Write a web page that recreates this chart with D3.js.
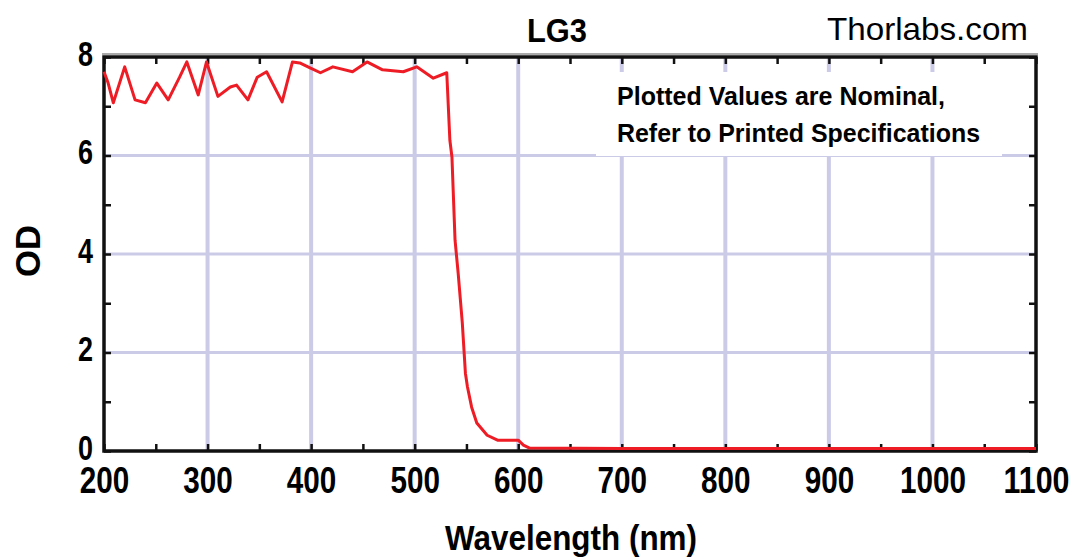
<!DOCTYPE html>
<html>
<head>
<meta charset="utf-8">
<script src="https://cdn.jsdelivr.net/npm/d3@7"></script>
<style>
  body { margin: 0; background: #fff; }
  svg { display: block; }
  text { font-family: "Liberation Sans", Arial, sans-serif; }
</style>
</head>
<body>
<svg id="chart" width="1074" height="557"></svg>
<script>
// LG3 optical density
var wavelength = [200, 204, 209, 220, 230, 240, 251, 262, 273, 280, 291, 299, 310, 322, 328,
    339, 348, 357, 372, 382, 389, 399, 409, 421, 440, 454, 469, 489, 502, 518, 531,
    534, 536, 539, 542, 546, 549, 551, 555, 560, 570, 580, 600, 605, 611,
    700, 800, 900, 1000, 1100];
var od = [7.70, 7.47, 7.07, 7.80, 7.13, 7.07, 7.47, 7.13, 7.59, 7.90, 7.23, 7.90, 7.20, 7.39, 7.43,
    7.13, 7.59, 7.70, 7.09, 7.90, 7.88, 7.78, 7.68, 7.80, 7.70, 7.90, 7.74, 7.70, 7.80, 7.57, 7.68,
    6.31, 5.97, 4.28, 3.61, 2.60, 1.58, 1.30, 0.89, 0.57, 0.32, 0.22, 0.22, 0.12, 0.06,
    0.05, 0.05, 0.05, 0.05, 0.05];
var xTicks = [200, 300, 400, 500, 600, 700, 800, 900, 1000, 1100];
var yTicks = [0, 2, 4, 6, 8];
var noteLines = ['Plotted Values are Nominal,', 'Refer to Printed Specifications'];

var svg = d3.select('#chart');
var pLeft = 104, pRight = 1036, pTop = 57, pBottom = 451;

var x = d3.scaleLinear().domain([200, 1100]).range([pLeft, pRight]);
var y = d3.scaleLinear().domain([0, 8]).range([pBottom, pTop]);

var gridColor = '#cbcbe8';

// grid
svg.append('g').selectAll('line')
    .data(xTicks.slice(1, -1))
    .enter().append('line')
    .attr('x1', d => x(d)).attr('x2', d => x(d))
    .attr('y1', pTop).attr('y2', pBottom)
    .attr('stroke', gridColor).attr('stroke-width', 4);
svg.append('g').selectAll('line')
    .data(yTicks.slice(1, -1))
    .enter().append('line')
    .attr('x1', pLeft).attr('x2', pRight)
    .attr('y1', d => y(d)).attr('y2', d => y(d))
    .attr('stroke', gridColor).attr('stroke-width', 3);

// note box covers the grid (and half of the OD 6 line)
svg.append('rect')
    .attr('x', 596).attr('y', 72)
    .attr('width', 406).attr('height', 84)
    .attr('fill', '#fff');
var noteLengths = [328, 363];
noteLines.forEach(function(s, i) {
    svg.append('text')
        .attr('x', 617).attr('y', 105 + i * 37)
        .attr('font-size', 25).attr('font-weight', 'bold')
        .attr('textLength', noteLengths[i]).attr('lengthAdjust', 'spacingAndGlyphs')
        .text(s);
});

// frame
svg.append('line').attr('x1', pLeft - 2).attr('x2', pRight + 2)
    .attr('y1', pTop - 3).attr('y2', pTop - 3)
    .attr('stroke', '#aaa').attr('stroke-width', 2);
svg.append('rect')
    .attr('x', pLeft).attr('y', pTop)
    .attr('width', pRight - pLeft).attr('height', pBottom - pTop)
    .attr('fill', 'none').attr('stroke', '#111').attr('stroke-width', 3.5);

// inward ticks
var minorX = d3.range(200, 1101, 50);
var minorY = d3.range(0, 9, 1);
function noLabels(g) { g.select('.domain').remove(); g.selectAll('text').remove(); }
svg.append('g').attr('transform', `translate(0,${pBottom})`)
    .call(d3.axisBottom(x).tickValues(minorX).tickSize(-7)).call(noLabels)
    .selectAll('line').attr('stroke', '#111').attr('stroke-width', 2.5);
svg.append('g').attr('transform', `translate(0,${pTop})`)
    .call(d3.axisTop(x).tickValues(minorX).tickSize(-7)).call(noLabels)
    .selectAll('line').attr('stroke', '#111').attr('stroke-width', 2.5);
svg.append('g').attr('transform', `translate(${pLeft},0)`)
    .call(d3.axisLeft(y).tickValues(minorY).tickSize(-7)).call(noLabels)
    .selectAll('line').attr('stroke', '#111').attr('stroke-width', 2.5);
svg.append('g').attr('transform', `translate(${pRight},0)`)
    .call(d3.axisRight(y).tickValues(minorY).tickSize(-7)).call(noLabels)
    .selectAll('line').attr('stroke', '#111').attr('stroke-width', 2.5);

// tick labels
var xAxis = svg.append('g').attr('transform', `translate(0,${pBottom})`)
    .call(d3.axisBottom(x).tickValues(xTicks).tickFormat(d3.format('d')).tickSize(0).tickPadding(16));
xAxis.select('.domain').remove();
xAxis.selectAll('text')
    .attr('font-size', 36).attr('font-weight', 'bold').attr('fill', '#000')
    .attr('textLength', d => String(d).length * 16.5)
    .attr('lengthAdjust', 'spacingAndGlyphs');

var yAxis = svg.append('g').attr('transform', `translate(${pLeft},0)`)
    .call(d3.axisLeft(y).tickValues(yTicks).tickFormat(d3.format('d')).tickSize(0).tickPadding(11));
yAxis.select('.domain').remove();
yAxis.selectAll('text')
    .attr('font-size', 35).attr('font-weight', 'bold').attr('fill', '#000')
    .attr('dy', '0.24em')
    .attr('textLength', 15).attr('lengthAdjust', 'spacingAndGlyphs');

// curve
var line = d3.line()
    .x((d, i) => x(wavelength[i]))
    .y(d => y(d));
svg.append('path')
    .datum(od)
    .attr('d', line)
    .attr('fill', 'none')
    .attr('stroke', '#ee1c25')
    .attr('stroke-width', 3)
    .attr('stroke-linejoin', 'round');

// titles
svg.append('text')
    .attr('x', 557).attr('y', 42)
    .attr('text-anchor', 'middle')
    .attr('font-size', 33).attr('font-weight', 'bold')
    .attr('textLength', 60).attr('lengthAdjust', 'spacingAndGlyphs')
    .text('LG3');
svg.append('text')
    .attr('x', 1028).attr('y', 40)
    .attr('text-anchor', 'end')
    .attr('font-size', 32)
    .attr('textLength', 201).attr('lengthAdjust', 'spacingAndGlyphs')
    .text('Thorlabs.com');
svg.append('text')
    .attr('x', 571).attr('y', 550)
    .attr('text-anchor', 'middle')
    .attr('font-size', 35).attr('font-weight', 'bold')
    .attr('textLength', 252).attr('lengthAdjust', 'spacingAndGlyphs')
    .text('Wavelength (nm)');
svg.append('text')
    .attr('transform', 'translate(40,251) rotate(-90)')
    .attr('text-anchor', 'middle')
    .attr('font-size', 35).attr('font-weight', 'bold')
    .attr('textLength', 52).attr('lengthAdjust', 'spacingAndGlyphs')
    .text('OD');
</script>
</body>
</html>
